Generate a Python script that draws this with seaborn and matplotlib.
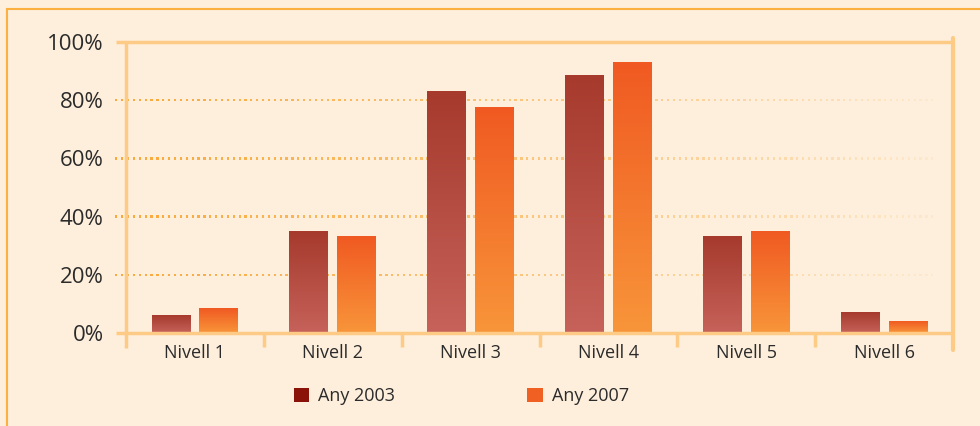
import numpy as np
import pandas as pd
import seaborn as sns
import matplotlib
matplotlib.use('Agg')
import matplotlib.pyplot as plt
from matplotlib.patches import Patch
from matplotlib.colors import to_rgb

# data
levels = ['Nivell 1', 'Nivell 2', 'Nivell 3', 'Nivell 4', 'Nivell 5', 'Nivell 6']
any_2003 = [6, 35, 83, 88.5, 33, 7]
any_2007 = [8.5, 33, 77.5, 93, 35, 4]
series = ['Any 2003', 'Any 2007']
y_ticks = [0, 20, 40, 60, 80, 100]

df = pd.DataFrame({
    'Nivell': levels * 2,
    'Valor': any_2003 + any_2007,
    'Any': [series[0]] * len(levels) + [series[1]] * len(levels),
})

BG = '#FEEFDC'
AXIS = '#FDCB86'
FRAME = '#FBB040'
GRID = '#F9A93A'
TEXT = '#2B2B2B'
grad = {
    'Any 2003': ('#A63A2D', '#C6625A'),
    'Any 2007': ('#F05A22', '#F8953A'),
}
legend_cols = {'Any 2003': '#8B1208', 'Any 2007': '#F06023'}

sns.set_style('white')
plt.rcParams['font.family'] = ['Open Sans', 'DejaVu Sans']

fig = plt.figure(figsize=(9.8, 4.26), dpi=100, facecolor=BG)
ax = fig.add_axes([126 / 980, 1 - 333 / 426, 827 / 980, 291 / 426])
ax.set_facecolor(BG)

sns.barplot(data=df, x='Nivell', y='Valor', hue='Any', order=levels,
            hue_order=series, width=0.696, gap=0.19, legend=False, ax=ax)

# replace flat fills with vertical gradients
n = len(levels)
for i, bar in enumerate(ax.patches[:2 * n]):
    name = series[i // n]
    top, bot = (np.array(to_rgb(c)) for c in grad[name])
    t = np.linspace(0, 1, 64)[:, None]
    img = (top * (1 - t) + bot * t)[:, None, :]
    x0, y0 = bar.get_x(), bar.get_y()
    w, h = bar.get_width(), bar.get_height()
    bar.set_facecolor('none')
    bar.set_edgecolor('none')
    ax.imshow(img, extent=[x0, x0 + w, y0, y0 + h], aspect='auto',
              origin='upper', zorder=2, interpolation='bilinear')
ax.set_xlim(-0.5, len(levels) - 0.5)
ax.set_ylim(0, 100)

for s in ax.spines.values():
    s.set_visible(False)

# dotted gridlines fading to the right
xs = np.linspace(-0.57, 5.35, 140)
alphas = np.clip(1.0 - (xs + 0.57) / 6.2, 0.05, 1.0) ** 0.8
dot_cols = [(*to_rgb(GRID), a) for a in alphas]
for yv in y_ticks[1:-1]:
    ax.scatter(xs, np.full_like(xs, yv), s=2.6, marker='s', c=dot_cols,
               linewidths=0, zorder=1, clip_on=False)

# axis lines
kw = dict(color=AXIS, lw=2.5, clip_on=False, zorder=3, solid_capstyle='butt')
ax.plot([-0.57, 5.5], [0, 0], **kw)
ax.plot([-0.57, 5.5], [100, 100], **kw)
ax.plot([-0.5, -0.5], [100, -5.2], **kw)
ax.plot([5.5, 5.5], [101.5, -5.8], color=AXIS, lw=3, clip_on=False, zorder=3)
for b in np.arange(0.5, 5.5, 1):
    ax.plot([b, b], [0, -4.8], **kw)

ax.set_yticks(y_ticks)
ax.set_yticklabels([f'{v}%' for v in y_ticks], fontsize=16, color=TEXT)
ax.set_xticks(range(n))
ax.set_xticklabels(levels, fontsize=13, color=TEXT)
ax.tick_params(axis='both', length=0)
ax.tick_params(axis='y', pad=16)
ax.tick_params(axis='x', pad=8)
ax.set_xlabel('')
ax.set_ylabel('')

# outer frame lines
fig.add_artist(plt.Line2D([7 / 980, 1], [1 - 9 / 426] * 2, color=FRAME, lw=1.5))
fig.add_artist(plt.Line2D([7 / 980] * 2, [0, 1 - 9 / 426], color=FRAME, lw=1.5))

handles = [Patch(facecolor=legend_cols[s], edgecolor='none', label=s) for s in series]
fig.legend(handles=handles, loc='center left', bbox_to_anchor=(285 / 980, 1 - 396 / 426),
           ncol=2, frameon=False, fontsize=13, handlelength=0.85, handleheight=0.85,
           handletextpad=0.5, columnspacing=7.3, borderpad=0, labelcolor=TEXT)

fig.savefig('out.png', dpi=100, facecolor=BG)
